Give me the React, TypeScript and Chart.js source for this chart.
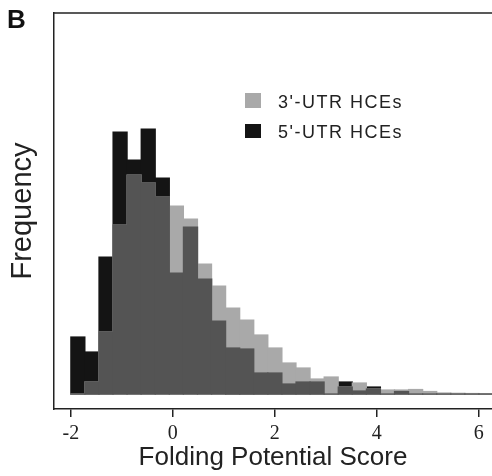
import React, { useEffect, useRef } from "react";
import { Chart, registerables } from "chart.js";

Chart.register(...registerables);

// Histogram bin centres (Folding Potential Score)
const binCenters = [
  -1.862, -1.586, -1.31, -1.034, -0.758, -0.482, -0.206, 0.07, 0.346, 0.622,
  0.898, 1.174, 1.45, 1.726, 2.002, 2.278, 2.554, 2.83, 3.106, 3.382,
  3.658, 3.934, 4.21, 4.486, 4.762, 5.038, 5.314, 5.59, 5.866, 6.142,
];

// 3'-UTR HCEs frequencies
const utr3 = [
  0, 12, 62, 169, 219, 211, 197, 188, 175, 130,
  108, 86, 74, 59, 46, 31, 26, 15, 17, 7,
  11, 5, 4, 4, 4.5, 2.5, 1, 0.7, 0.5, 0.4,
];

// 5'-UTR HCEs frequencies
const utr5 = [
  57, 42, 137, 262, 234, 265, 216, 121, 167, 115,
  73, 46, 45, 21, 21, 10, 12, 12, 0, 12,
  3, 7, 0, 2.5, 0, 0, 0, 0, 0, 0,
];

const xTicks = [-2, 0, 2, 4, 6];

const seriesLabels = ["3'-UTR HCEs", "5'-UTR HCEs"];

const LIGHT = "#a9a9a9";
const BLACK = "#141414";
const OVERLAP = "#545454";
const INK = "#222222";

export default function App() {
  const canvasRef = useRef<HTMLCanvasElement | null>(null);

  useEffect(() => {
    const canvas = canvasRef.current;
    if (!canvas) return;
    const overlap = utr3.map((v, i) => Math.min(v, utr5[i]));
    const toPts = (arr: number[]) => arr.map((y, i) => ({ x: binCenters[i], y }));

    const frame = {
      id: "frameTop",
      afterDraw(chart: any) {
        const { ctx, chartArea } = chart;
        ctx.save();
        ctx.strokeStyle = INK;
        ctx.lineWidth = 1.5;
        ctx.beginPath();
        ctx.moveTo(chartArea.left, chartArea.top);
        ctx.lineTo(chart.width, chartArea.top);
        ctx.stroke();
        ctx.restore();
      },
    };

    const chart = new Chart(canvas, {
      type: "bar",
      data: {
        datasets: [
          {
            label: "overlap",
            data: toPts(overlap),
            backgroundColor: OVERLAP,
            order: 0,
          },
          {
            label: seriesLabels[0],
            data: toPts(utr3),
            backgroundColor: LIGHT,
            order: 1,
          },
          {
            label: seriesLabels[1],
            data: toPts(utr5),
            backgroundColor: BLACK,
            order: 2,
          },
        ],
      },
      plugins: [frame],
      options: {
        animation: false,
        responsive: false,
        devicePixelRatio: 1,
        datasets: {
          bar: {
            grouped: false,
            barPercentage: 1,
            categoryPercentage: 1,
            borderWidth: 0,
            inflateAmount: 0.6,
          },
        },
        layout: { padding: { top: 13, left: 0, right: 0, bottom: 0 } },
        plugins: {
          legend: { display: false },
          tooltip: { enabled: false },
        },
        scales: {
          x: {
            type: "linear",
            offset: false,
            min: -2.33,
            max: 6.26,
            afterBuildTicks: (scale: any) => {
              scale.ticks = xTicks.map((v) => ({ value: v }));
            },
            afterFit: (scale: any) => {
              scale.height = 67;
            },
            grid: {
              display: true,
              offset: false,
              drawOnChartArea: false,
              drawTicks: true,
              tickLength: 8,
              color: INK,
              lineWidth: 1.5,
            },
            border: { display: true, color: INK, width: 1.5 },
            ticks: {
              padding: 5,
              color: INK,
              font: { family: "'Liberation Serif', serif", size: 20 },
              callback: (v: any) => String(v),
            },
            title: {
              display: true,
              text: "Folding Potential Score",
              color: INK,
              font: { family: "'Liberation Sans', Arial, sans-serif", size: 26 },
              padding: { top: 0, bottom: 3 },
            },
          },
          y: {
            type: "linear",
            min: -15,
            max: 381,
            afterFit: (scale: any) => {
              scale.width = 54;
            },
            grid: { display: false },
            border: { display: true, color: INK, width: 1.5 },
            ticks: { display: false },
            title: {
              display: true,
              text: "Frequency",
              color: INK,
              font: { family: "'Liberation Sans', Arial, sans-serif", size: 29 },
              padding: { top: 6, bottom: 0 },
            },
          },
        },
      },
    } as any);

    return () => chart.destroy();
  }, []);

  const legendText: React.CSSProperties = {
    position: "absolute",
    left: 278,
    fontFamily: "'Liberation Sans', Arial, sans-serif",
    fontSize: 18,
    lineHeight: "18px",
    letterSpacing: "1.5px",
    color: INK,
    whiteSpace: "nowrap",
  };

  return (
    <div
      style={{
        position: "absolute",
        left: 0,
        top: 0,
        width: 492,
        height: 476,
        background: "#ffffff",
        overflow: "hidden",
      }}
    >
      <canvas ref={canvasRef} width={492} height={476} style={{ display: "block" }} />
      <div
        style={{
          position: "absolute",
          left: 7,
          top: 6,
          fontFamily: "'Liberation Sans', Arial, sans-serif",
          fontWeight: "bold",
          fontSize: 26,
          lineHeight: "26px",
          color: "#111",
        }}
      >
        B
      </div>
      <div style={{ position: "absolute", left: 245, top: 93, width: 16, height: 15, background: LIGHT }} />
      <div style={{ ...legendText, top: 93 }}>{seriesLabels[0]}</div>
      <div style={{ position: "absolute", left: 245, top: 124, width: 16, height: 14, background: BLACK }} />
      <div style={{ ...legendText, top: 123 }}>{seriesLabels[1]}</div>
    </div>
  );
}
